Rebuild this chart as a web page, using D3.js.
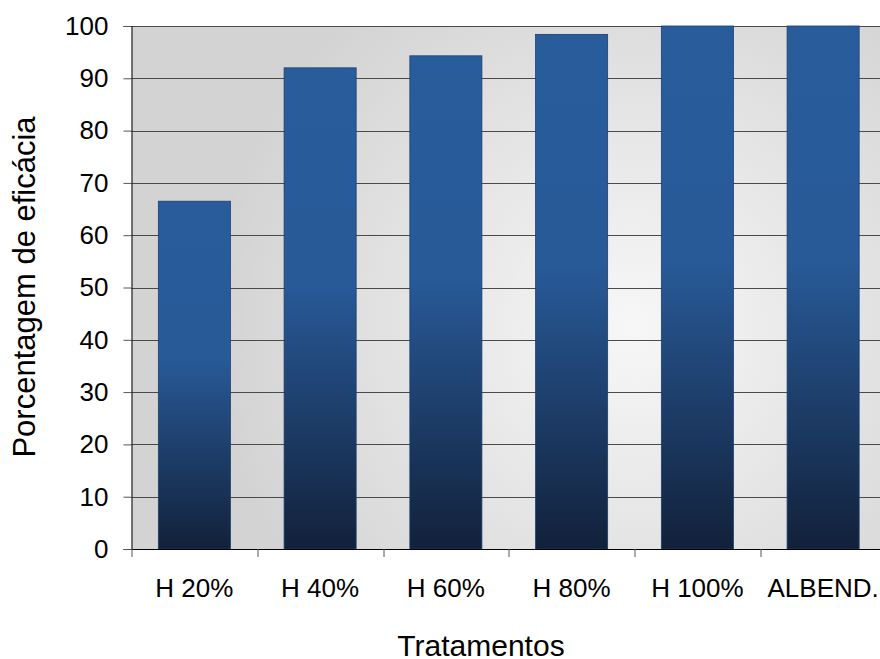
<!DOCTYPE html>
<html>
<head>
<meta charset="utf-8">
<script src="https://cdn.jsdelivr.net/npm/d3@7"></script>
<style>
  html, body { margin: 0; padding: 0; background: #fff; }
  svg { display: block; font-family: "Liberation Sans", Arial, sans-serif; }
</style>
</head>
<body>
<svg id="chart" width="880" height="659"></svg>
<script>
// Efficacy by treatment
const categories = ["H 20%", "H 40%", "H 60%", "H 80%", "H 100%", "ALBEND."];
const values = [66.5, 92, 94.3, 98.4, 100, 100];
const yTicks = [0, 10, 20, 30, 40, 50, 60, 70, 80, 90, 100];

const svg = d3.select("#chart");
const margin = { left: 131.5, top: 26, right: -6, bottom: 110 };
const W = 880, H = 659;
const plotW = W - margin.left - margin.right;
const plotH = H - margin.top - margin.bottom;
const FONT = "Liberation Sans, Arial, sans-serif";

const defs = svg.append("defs");
const bg = defs.append("radialGradient").attr("id", "bgGrad")
  .attr("gradientUnits", "userSpaceOnUse")
  .attr("cx", 500).attr("cy", 300).attr("r", 420);
bg.append("stop").attr("offset", "0%").attr("stop-color", "#f7f7f7");
bg.append("stop").attr("offset", "100%").attr("stop-color", "#d3d3d3");

const barGrad = defs.append("linearGradient").attr("id", "barGrad")
  .attr("x1", 0).attr("y1", 0).attr("x2", 0).attr("y2", 1);
barGrad.append("stop").attr("offset", "0%").attr("stop-color", "#295c9b");
barGrad.append("stop").attr("offset", "45%").attr("stop-color", "#285a98");
barGrad.append("stop").attr("offset", "100%").attr("stop-color", "#12213a");

const g = svg.append("g").attr("transform", `translate(${margin.left},${margin.top})`);

const x = d3.scaleBand().domain(categories).range([0, plotW]).paddingInner(0.427).paddingOuter(0.2135);
const y = d3.scaleLinear().domain([0, 100]).range([plotH, 0]);

// plot background
g.append("rect").attr("x", 0).attr("y", 0).attr("width", plotW).attr("height", plotH)
  .attr("fill", "url(#bgGrad)");

// gridlines
g.append("g").selectAll("line").data(yTicks.filter(t => t > 0)).join("line")
  .attr("x1", 0).attr("x2", plotW)
  .attr("y1", d => Math.round(y(d)) + 0.5).attr("y2", d => Math.round(y(d)) + 0.5)
  .attr("stroke", "#4a4a4a").attr("stroke-width", 1);

// bars
g.append("g").selectAll("rect").data(values).join("rect")
  .attr("x", (d, i) => x(categories[i]))
  .attr("y", d => y(d))
  .attr("width", x.bandwidth())
  .attr("height", d => plotH - y(d))
  .attr("fill", "url(#barGrad)")
  .attr("stroke", "#1d3f6e").attr("stroke-width", 0.8);

// y axis
const yAxis = d3.axisLeft(y).tickValues(yTicks).tickSize(8).tickPadding(15);
const ya = g.append("g").call(yAxis);
ya.attr("font-size", 26).attr("font-family", FONT);
ya.select(".domain").attr("stroke", "#000");
ya.selectAll(".tick line").attr("stroke", "#555");
ya.selectAll(".tick text").attr("fill", "#000");

// x axis
const xAxis = d3.axisBottom(x).tickSize(0).tickPadding(30);
const xa = g.append("g").attr("transform", `translate(0,${plotH})`).call(xAxis);
xa.attr("font-size", 26).attr("font-family", FONT);
xa.select(".domain").attr("stroke", "#000");
xa.selectAll(".tick text").attr("fill", "#000");
// category boundary ticks
const step = x.step();
g.append("g").selectAll("line").data(d3.range(categories.length + 1)).join("line")
  .attr("x1", i => Math.round(i * step) + 0.5).attr("x2", i => Math.round(i * step) + 0.5)
  .attr("y1", plotH).attr("y2", plotH + 8)
  .attr("stroke", "#555");

// axis titles
svg.append("text").attr("x", 481).attr("y", 656)
  .attr("text-anchor", "middle").attr("font-size", 30).attr("fill", "#000")
  .attr("font-family", FONT)
  .text("Tratamentos");
svg.append("text")
  .attr("transform", "translate(35,287) rotate(-90)")
  .attr("text-anchor", "middle").attr("font-size", 31).attr("fill", "#000")
  .attr("font-family", FONT)
  .text("Porcentagem de eficácia");
</script>
</body>
</html>
